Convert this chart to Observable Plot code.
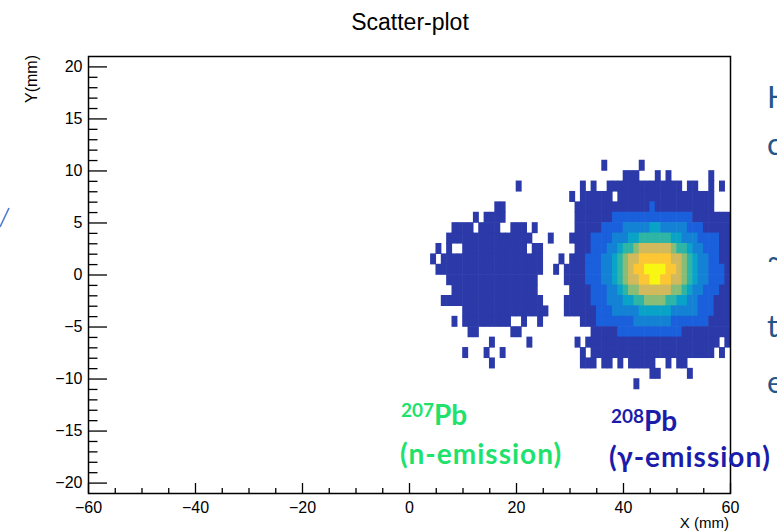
<!DOCTYPE html>
<html>
<head>
<meta charset="utf-8">
<script src="https://cdn.jsdelivr.net/npm/d3@7"></script>
<script src="https://cdn.jsdelivr.net/npm/@observablehq/plot@0.6"></script>
<style>
  html, body { margin: 0; padding: 0; background: #fff; }
  #wrap { position: relative; width: 777px; height: 531px; overflow: hidden; }
  #wrap svg { position: absolute; left: 0; top: 0; }
</style>
</head>
<body>
<div id="wrap"></div>
<script>
// ---- data ----
const chartTitle = "Scatter-plot";
const xTitle = "X (mm)";
const yTitle = "Y(mm)";
const xDomain = [-60, 60];
const yDomain = [-21, 21];
const xMajorTicks = [-60, -40, -20, 0, 20, 40, 60];
const yMajorTicks = [-20, -15, -10, -5, 0, 5, 10, 15, 20];
const binWidth = 1;   // mm
const binHeight = 1;  // mm

// colour levels (ROOT "bird" palette as seen in the picture)
const levels = [1, 2, 3, 4, 5, 6, 7, 8, 9];
const palette = ["#2b3aa8", "#1a5fdb", "#1482d4", "#0aa3c8", "#2fb5a5", "#88bd77", "#d2b95b", "#fcc733", "#f7f712"];

// histogram cells: [top edge of row (mm), x of first bin (mm), level per bin ("." = empty)]
const cellSegments = [
  [11, 36, "1"], [11, 43, "1"],
  [10, 40, "111...1.1"], [10, 56, "1"],
  [9, 20, "1"], [9, 32, "1.1.." + "11111111111111" + ".11..1.1"],
  [8, 30, "1.111111." + "111111111111111111"],
  [7, 16, "11"], [7, 31, "11111111111111" + "2" + "11111111111"],
  [6, 12, "1.1111"], [6, 31, "1111111" + "222222222222222" + "1111111"],
  [5, 8, "1111.1111..111.1"], [5, 31, "11111" + "2222" + "33333" + "44" + "33333" + "222" + "11111"],
  [4, 7, "1111111111111111"], [4, 26, "1"], [4, 30, "1111" + "2222" + "333" + "44" + "555555" + "44" + "333" + "2222" + "11"],
  [3, 5, "1.1.." + "111111111111" + ".11"], [3, 31, "111" + "222" + "33" + "4" + "55" + "6" + "777777" + "6" + "55" + "4" + "33" + "222" + "11"],
  [2, 4, "1." + "1111111111111111111"], [2, 28, "1." + "111" + "222" + "33" + "4" + "5" + "6" + "77" + "888888" + "77" + "6" + "5" + "4" + "33" + "22" + "11"],
  [1, 5, "11111111111111111111"], [1, 27, "1." + "1111" + "222" + "33" + "4567" + "88" + "9999" + "88" + "7654" + "33" + "222" + "1"],
  [0, 7, "11111111111111111"], [0, 29, "1111" + "222" + "33" + "456" + "77" + "88" + "99" + "88" + "77" + "654" + "33" + "222" + "1"],
  [-1, 8, "1111111111111111"], [-1, 30, "1111" + "222" + "33" + "45" + "66" + "777777" + "66" + "54" + "33" + "222" + "11"],
  [-2, 6, "1111111111111111111"], [-2, 29, "11111" + "222" + "333" + "44" + "55" + "6666" + "55" + "44" + "33" + "222" + "111"],
  [-3, 10, "1111111111111111"], [-3, 29, "111111" + "222" + "33333" + "444444" + "33333" + "222" + "111"],
  [-4, 8, "1.111111111..1..1"], [-4, 32, "111" + "2222222" + "3333333" + "2222222" + "1111"],
  [-5, 11, "11......11"], [-5, 34, "11111" + "222222222222" + "111111111"],
  [-6, 15, "1"], [-6, 22, "1"], [-6, 31, "1." + "1111111111111111111111111" + ".1"],
  [-7, 10, "1...1..1"], [-7, 32, "1." + "11111111111111111111111" + ".1"],
  [-8, 15, "1"], [-8, 32, "111.11.1.11111..1.11"],
  [-9, 45, "11.....1"],
  [-10, 42, "1"]
];

// ---- build table for the library ----
const cells = [];
for (const [top, x0, s] of cellSegments) {
  for (let i = 0; i < s.length; i++) {
    if (s[i] === ".") continue;
    cells.push({x1: x0 + i * binWidth, x2: x0 + (i + 1) * binWidth, y1: top - binHeight, y2: top, level: +s[i]});
  }
}
const isMajorX = new Set(xMajorTicks), isMajorY = new Set(yMajorTicks);
const xMinorTicks = d3.range(xDomain[0], xDomain[1] + 1, 5).filter(d => !isMajorX.has(d));
const yMinorTicks = d3.range(-20, 21, 1).filter(d => !isMajorY.has(d));
const fmt = d => (d < 0 ? "\u2212" + Math.abs(d) : String(d));

const W = 777, H = 531, mL = 88, mR = 47, mT = 56, mB = 38;
const innerW = W - mL - mR, innerH = H - mT - mB;

const chart = Plot.plot({
  width: W, height: H,
  marginLeft: mL, marginRight: mR, marginTop: mT, marginBottom: mB,
  x: {domain: xDomain},
  y: {domain: yDomain},
  color: {type: "ordinal", domain: levels, range: palette},
  style: {fontFamily: "'Liberation Sans', Arial, sans-serif", fontSize: "16px", background: "#fff", color: "#000"},
  marks: [
    Plot.rect(cells, {x1: "x1", x2: "x2", y1: "y1", y2: "y2", fill: "level", inset: -0.3}),
    Plot.frame({stroke: "#000", strokeWidth: 1.5}),
    Plot.tickX(xMajorTicks, {x: d => d, insetTop: innerH - 10, stroke: "#000", strokeWidth: 1.3}),
    Plot.tickX(xMinorTicks, {x: d => d, insetTop: innerH - 5, stroke: "#000", strokeWidth: 1.3}),
    Plot.tickY(yMajorTicks, {y: d => d, insetRight: innerW - 19, stroke: "#000", strokeWidth: 1.3}),
    Plot.tickY(yMinorTicks, {y: d => d, insetRight: innerW - 9.5, stroke: "#000", strokeWidth: 1.3}),
    Plot.axisX({ticks: xMajorTicks, tickSize: 0, tickPadding: 8, tickFormat: fmt, label: null, fontSize: 16}),
    Plot.axisY({ticks: yMajorTicks, tickSize: 0, tickPadding: 6, tickFormat: fmt, label: null, fontSize: 16})
  ]
});
document.getElementById("wrap").appendChild(chart);

// ---- overlay texts (title, axis titles, slide annotations) ----
const ov = d3.select("#wrap").append("svg").attr("width", W).attr("height", H).style("pointer-events", "none");
const sans = "'Liberation Sans', Arial, sans-serif";
ov.append("text").attr("x", 410).attr("y", 30).attr("text-anchor", "middle")
  .attr("font-family", sans).attr("font-size", 23).attr("fill", "#000").text(chartTitle);
ov.append("text").attr("x", 729).attr("y", 528).attr("text-anchor", "end")
  .attr("font-family", sans).attr("font-size", 15).attr("fill", "#000").text(xTitle);
ov.append("text").attr("transform", "translate(37,55) rotate(-90)").attr("text-anchor", "end")
  .attr("font-family", sans).attr("font-size", 16).attr("fill", "#000").text(yTitle);

const lato = "Lato, 'Open Sans', sans-serif";
function isotope(x, y, mass, color) {
  const t = ov.append("text").attr("x", x).attr("y", y).attr("font-family", lato)
    .attr("font-weight", 700).attr("fill", color);
  t.append("tspan").attr("font-size", 19).attr("dy", -8).text(mass);
  t.append("tspan").attr("font-size", 28).attr("dy", 8).text("Pb");
}
isotope(401, 425, "207", "#1ee26c");
ov.append("text").attr("x", 400).attr("y", 464).attr("font-family", lato).attr("font-weight", 700)
  .attr("font-size", 28).attr("letter-spacing", 1).attr("fill", "#1ee26c").text("(n-emission)");
isotope(611, 431, "208", "#1c1cab");
ov.append("text").attr("x", 609).attr("y", 467).attr("font-family", lato).attr("font-weight", 700)
  .attr("font-size", 28).attr("letter-spacing", 1).attr("fill", "#1c1cab").text("(γ-emission)");

// cut-off slide text on the right (cropped in the reference too)
const sideText = [["H", 108], ["c", 155], ["~", 268], ["t", 337], ["e", 393]];
for (const [s, y] of sideText) {
  ov.append("text").attr("x", 767).attr("y", y).attr("font-family", lato).attr("font-size", 31)
    .attr("fill", "#24568a").text(s);
}
// cut-off arrow stroke on the left
ov.append("path").attr("d", "M0,227 L9,208").attr("stroke", "#4a7bd0").attr("stroke-width", 1.6).attr("fill", "none");
</script>
</body>
</html>
